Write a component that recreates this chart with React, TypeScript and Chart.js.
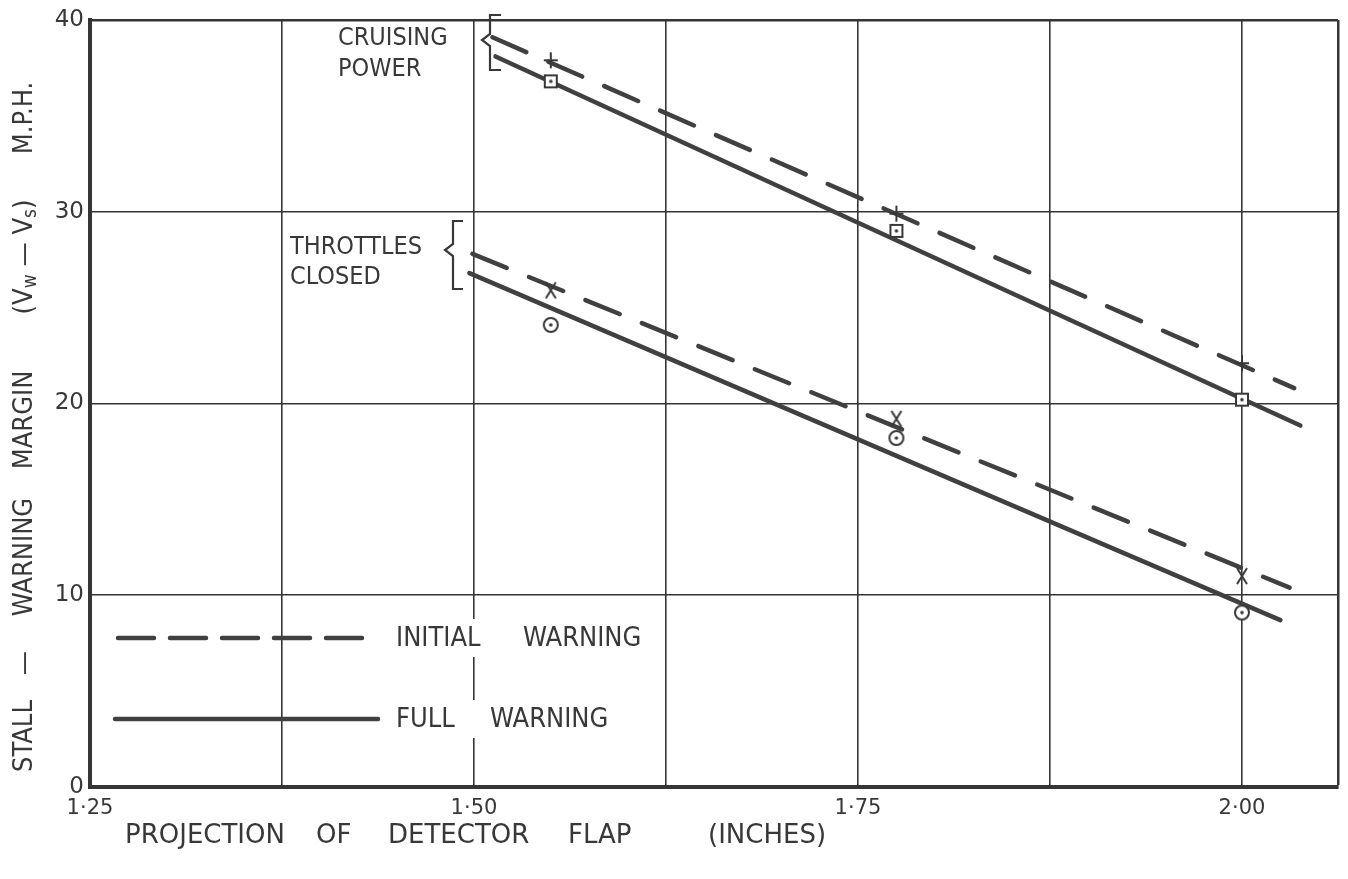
import React, { useEffect, useRef } from 'react';
import { Chart, registerables } from 'chart.js';

Chart.register(...registerables);

// ---- data ----
const xGridValues = [1.25, 1.375, 1.5, 1.625, 1.75, 1.875, 2.0, 2.0625];
const xTickValues = [1.25, 1.5, 1.75, 2.0];
const xTickLabels = ['1·25', '1·50', '1·75', '2·00'];
const yTickValues = [0, 10, 20, 30, 40];
const yTickLabels = ['0', '10', '20', '30', '40'];

// fitted lines (start/end)
const cruiseInitialLineX = [1.512, 2.034];
const cruiseInitialLineY = [39.1, 20.8];
const cruiseFullLineX = [1.514, 2.038];
const cruiseFullLineY = [38.1, 18.85];
const throttleInitialLineX = [1.499, 2.031];
const throttleInitialLineY = [27.8, 10.4];
const throttleFullLineX = [1.497, 2.025];
const throttleFullLineY = [26.8, 8.7];

// measured points
const pointX = [1.55, 1.775, 2.0];
const cruiseInitialPts = [37.9, 29.9, 22.1];
const cruiseFullPts = [36.8, 29.0, 20.2];
const throttleInitialPts = [25.9, 19.2, 11.0];
const throttleFullPts = [24.1, 18.2, 9.1];

const seriesNames = ['INITIAL', 'FULL'];
const seriesSuffix = 'WARNING';

const FONT = '"DejaVu Sans", "Liberation Sans", sans-serif';
const FONT_C = '"DejaVu Sans Condensed", "DejaVu Sans", sans-serif';
const INK = '#383838';
const LINE = '#404040';
const DASH = [37, 24];
const LEGEND_DASH = [36, 16];

function makeMarker(kind: string): HTMLCanvasElement {
  const c = document.createElement('canvas');
  c.width = 22;
  c.height = 22;
  const g = c.getContext('2d')!;
  g.translate(11, 11);
  g.strokeStyle = INK;
  g.fillStyle = INK;
  g.lineWidth = 2;
  g.beginPath();
  if (kind === 'plus') {
    g.moveTo(-7, 0); g.lineTo(7, 0);
    g.moveTo(0, -8); g.lineTo(0, 8);
    g.stroke();
  } else if (kind === 'x') {
    g.moveTo(-5, -8); g.lineTo(5, 8);
    g.moveTo(5, -8); g.lineTo(-5, 8);
    g.stroke();
  } else if (kind === 'square') {
    g.fillStyle = '#fff';
    g.fillRect(-6, -6, 12, 12);
    g.strokeRect(-6, -6, 12, 12);
    g.fillStyle = INK;
    g.beginPath(); g.arc(0, 0, 1.8, 0, Math.PI * 2); g.fill();
  } else {
    g.fillStyle = '#fff';
    g.arc(0, 0, 7, 0, Math.PI * 2); g.fill(); g.stroke();
    g.fillStyle = INK;
    g.beginPath(); g.arc(0, 0, 1.8, 0, Math.PI * 2); g.fill();
  }
  return c;
}

const pairs = (xs: number[], ys: number[]) => xs.map((x, i) => ({ x, y: ys[i] }));

type Part = { t: string; sub?: boolean };

function drawParts(ctx: CanvasRenderingContext2D, parts: Part[], cx: number, cy: number, size: number, fam: string) {
  const big = `${size}px ${fam}`;
  const small = `${Math.round(size * 0.72)}px ${fam}`;
  let total = 0;
  const widths = parts.map(p => { ctx.font = p.sub ? small : big; const w = ctx.measureText(p.t).width; total += w; return w; });
  let x = cx - total / 2;
  parts.forEach((p, i) => {
    ctx.font = p.sub ? small : big;
    ctx.textAlign = 'left';
    ctx.textBaseline = 'middle';
    ctx.fillText(p.t, x, cy + (p.sub ? size * 0.22 : 0));
    x += widths[i];
  });
}

const decorPlugin = {
  id: 'decor',
  afterDraw(chart: any) {
    const ctx: CanvasRenderingContext2D = chart.ctx;
    ctx.save();
    ctx.fillStyle = INK;
    ctx.strokeStyle = INK;

    // Annotations
    ctx.font = `25px ${FONT_C}`;
    ctx.textAlign = 'left';
    ctx.textBaseline = 'middle';
    ctx.fillText('CRUISING', 338, 38);
    ctx.fillText('POWER', 338, 69);
    ctx.fillText('THROTTLES', 290, 247);
    ctx.fillText('CLOSED', 290, 277);

    // Braces
    ctx.lineWidth = 2.2;
    ctx.lineJoin = 'miter';
    const brace = (x: number, top: number, bot: number, tipX: number, tipY: number, stub: number) => {
      ctx.beginPath();
      ctx.moveTo(x + stub, top);
      ctx.lineTo(x, top);
      ctx.lineTo(x, tipY - 6);
      ctx.lineTo(tipX, tipY);
      ctx.lineTo(x, tipY + 6);
      ctx.lineTo(x, bot);
      ctx.lineTo(x + stub, bot);
      ctx.stroke();
    };
    brace(490, 15, 70, 482, 40, 11);
    brace(453, 221, 289, 445, 250, 10);

    // Legend
    const legendRows = [
      { y: 638, dash: LEGEND_DASH, x0: 118, label: seriesNames[0], x2: 523 },
      { y: 719, dash: [] as number[], x0: 115, label: seriesNames[1], x2: 490 },
    ];
    legendRows.forEach(r => {
      ctx.font = `27px ${FONT_C}`;
      const w2 = ctx.measureText(seriesSuffix).width;
      ctx.fillStyle = '#fff';
      ctx.fillRect(390, r.y - 19, r.x2 + w2 - 390 + 6, 38);
      ctx.fillStyle = INK;
      ctx.textAlign = 'left';
      ctx.textBaseline = 'middle';
      ctx.fillText(r.label, 396, r.y + 1);
      ctx.fillText(seriesSuffix, r.x2, r.y + 1);
      ctx.beginPath();
      ctx.setLineDash(r.dash);
      ctx.lineWidth = 4.5;
      ctx.lineCap = 'round';
      ctx.strokeStyle = LINE;
      ctx.moveTo(r.x0, r.y);
      ctx.lineTo(378, r.y);
      ctx.stroke();
      ctx.setLineDash([]);
    });

    // X title
    ctx.fillStyle = INK;
    ctx.font = `26px ${FONT}`;
    ctx.textAlign = 'left';
    ctx.textBaseline = 'middle';
    const xWords = [['PROJECTION', 125], ['OF', 316], ['DETECTOR', 388], ['FLAP', 568], ['(INCHES)', 708]];
    xWords.forEach(([t, x]) => ctx.fillText(t as string, x as number, 836));

    // Y title (rotated)
    ctx.save();
    ctx.translate(25, 0);
    ctx.rotate(-Math.PI / 2);
    const ySegs: [Part[], number][] = [
      [[{ t: 'STALL' }], 736],
      [[{ t: '—' }], 663],
      [[{ t: 'WARNING' }], 557],
      [[{ t: 'MARGIN' }], 420],
      [[{ t: '(V' }, { t: 'w', sub: true }, { t: ' — ' }, { t: 'V' }, { t: 's', sub: true }, { t: ')' }], 257],
      [[{ t: 'M.P.H.' }], 118],
    ];
    ySegs.forEach(([parts, y]) => drawParts(ctx, parts, -y, 0, 27, FONT_C));
    ctx.restore();

    ctx.restore();
  },
};

export default function App() {
  const ref = useRef<HTMLCanvasElement>(null);
  useEffect(() => {
    const plus = makeMarker('plus');
    const xm = makeMarker('x');
    const sq = makeMarker('square');
    const ci = makeMarker('circle');

    const lineDs = (xs: number[], ys: number[], dashed: boolean) => ({
      data: pairs(xs, ys),
      showLine: true,
      borderColor: LINE,
      borderWidth: 4.5,
      borderDash: dashed ? DASH : [],
      borderCapStyle: 'round' as const,
      pointRadius: 0,
      fill: false,
      order: 2,
    });
    const markDs = (ys: number[], img: HTMLCanvasElement) => ({
      data: pairs(pointX, ys),
      showLine: false,
      pointStyle: img,
      pointRadius: 9,
      order: 0,
    });

    const chart = new Chart(ref.current!, {
      type: 'scatter',
      data: {
        datasets: [
          lineDs(cruiseInitialLineX, cruiseInitialLineY, true),
          lineDs(cruiseFullLineX, cruiseFullLineY, false),
          lineDs(throttleInitialLineX, throttleInitialLineY, true),
          lineDs(throttleFullLineX, throttleFullLineY, false),
          markDs(cruiseInitialPts, plus),
          markDs(cruiseFullPts, sq),
          markDs(throttleInitialPts, xm),
          markDs(throttleFullPts, ci),
        ] as any,
      },
      options: {
        animation: false,
        responsive: false,
        events: [],
        layout: { padding: { left: 0, top: 20, right: 10, bottom: 0 } },
        plugins: { legend: { display: false }, tooltip: { enabled: false } },
        scales: {
          x: {
            type: 'linear',
            min: 1.25,
            max: 2.0625,
            afterBuildTicks: (s: any) => { s.ticks = xGridValues.map(v => ({ value: v })); },
            afterFit: (s: any) => { s.height = 92; },
            ticks: {
              autoSkip: false,
              maxRotation: 0,
              padding: 9,
              color: INK,
              font: { family: FONT, size: 21 },
              callback: (v: any) => {
                const i = xTickValues.findIndex(t => Math.abs(t - Number(v)) < 1e-6);
                return i >= 0 ? xTickLabels[i] : '';
              },
            },
            grid: {
              drawTicks: false,
              color: '#353535',
              lineWidth: (c: any) => (c.tick && c.tick.value > 2.05 ? 2.5 : 1.6),
            },
            border: { display: true, width: 4, color: '#353535' },
          },
          y: {
            type: 'linear',
            min: 0,
            max: 40,
            afterBuildTicks: (s: any) => { s.ticks = yTickValues.map(v => ({ value: v })); },
            afterFit: (s: any) => { s.width = 90; },
            ticks: {
              padding: 6,
              color: INK,
              font: { family: FONT, size: 23 },
              callback: (v: any) => {
                const i = yTickValues.indexOf(Number(v));
                return i >= 0 ? yTickLabels[i] : '';
              },
            },
            grid: {
              drawTicks: false,
              color: '#353535',
              lineWidth: (c: any) => (c.tick && c.tick.value >= 40 ? 2.5 : 1.6),
            },
            border: { display: true, width: 4, color: '#353535' },
          },
        },
      } as any,
      plugins: [decorPlugin],
    });
    return () => chart.destroy();
  }, []);

  return (
    <div style={{ position: 'absolute', left: 0, top: 0, width: 1348, height: 879, background: '#fff' }}>
      <canvas ref={ref} width={1348} height={879} style={{ display: 'block' }} />
    </div>
  );
}
